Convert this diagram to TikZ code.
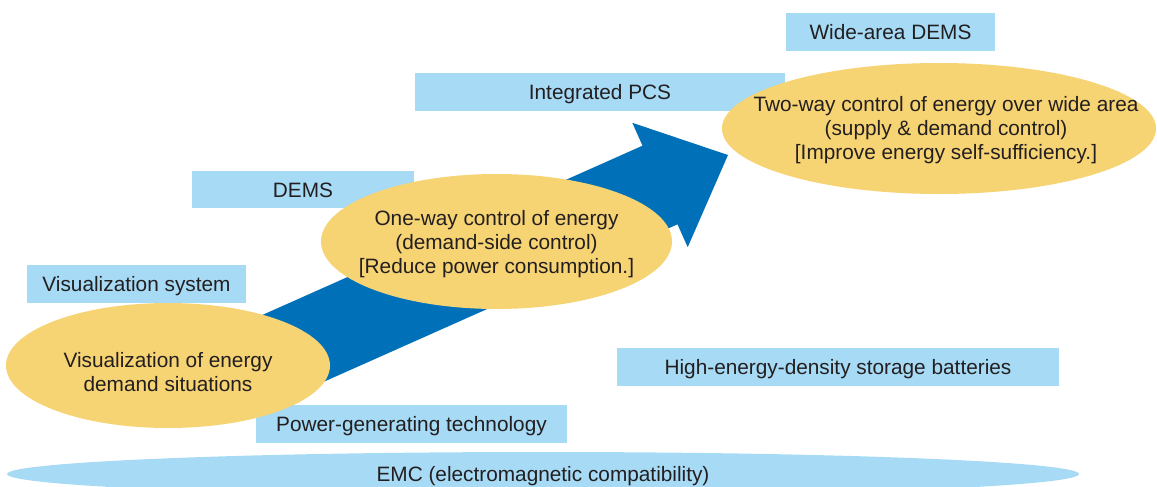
\documentclass[tikz,border=0pt]{standalone}
\usepackage{fontspec}
\setmainfont{Liberation Sans}
\usetikzlibrary{shapes.geometric}

\definecolor{tagblue}{RGB}{166,218,245}
\definecolor{discgold}{RGB}{246,211,115}
\definecolor{flowblue}{RGB}{0,112,185}
\definecolor{ink}{RGB}{35,31,32}

\begin{document}
\begin{tikzpicture}[x=1pt,y=-1pt,
  every node/.style={font=\fontsize{20.8}{24}\selectfont, text=ink},
  tag/.style={fill=tagblue, inner sep=0pt, minimum height=38pt, text height=15pt, text depth=0pt},
  disc/.style={ellipse, fill=discgold, inner sep=0pt},
  disctext/.style={align=center, inner sep=0pt},
]
\useasboundingbox (0,0) rectangle (1157,487);

% technology labels
\node[tag, minimum width=209pt] (wide) at (890.5,32) {Wide-area DEMS};
\node[tag, minimum width=370pt] (pcs)  at (600,92)   {Integrated PCS};
\node[tag, minimum width=222pt, minimum height=37pt] (dems) at (303,189.5) {DEMS};
\node[tag, minimum width=219pt] (vis)  at (136.5,284) {Visualization system};
\node[tag, minimum width=442pt] (bat)  at (838,367)  {High-energy-density storage batteries};
\node[tag, minimum width=311pt] (gen)  at (411.5,424) {Power-generating technology};

% progression arrow
\coordinate (tailL) at (257.5,411.3);
\coordinate (neckL) at (677.5,224.3);
\coordinate (barbL) at (687.7,247.2);
\coordinate (tip)   at (728,155);
\coordinate (barbU) at (632.3,122.8);
\coordinate (neckU) at (642.5,145.7);
\coordinate (tailU) at (222.5,332.7);
\fill[flowblue] (tailL) -- (neckL) -- (barbL) -- (tip) -- (barbU) -- (neckU) -- (tailU) -- cycle;

% stages
\node[disc, minimum width=324pt, minimum height=125pt] (see) at (168,365.5) {};
\node[disctext] (seetext) at ([yshift=-6.5pt]see.center)
  {Visualization of energy\\demand situations};

\node[disc, minimum width=351pt, minimum height=135pt] (oneway) at (496.5,241.5) {};
\node[disctext] (onewaytext) at ([yshift=-3pt]oneway.center)
  {One-way control of energy\\(demand-side control)\\{[}Reduce power consumption.{]}};

\node[disc, minimum width=434pt, minimum height=131pt] (twoway) at (939,128.5) {};
\node[disctext] (twowaytext) at ([xshift=7pt,yshift=-2pt]twoway.center)
  {Two-way control of energy over wide area\\(supply \& demand control)\\{[}Improve energy self-sufficiency.{]}};

% common base
\node[ellipse, fill=tagblue, inner sep=0pt, minimum width=1072pt, minimum height=44pt, text height=15pt, text depth=0pt] (emc) at (543,474)
  {EMC (electromagnetic compatibility)};
\end{tikzpicture}
\end{document}
